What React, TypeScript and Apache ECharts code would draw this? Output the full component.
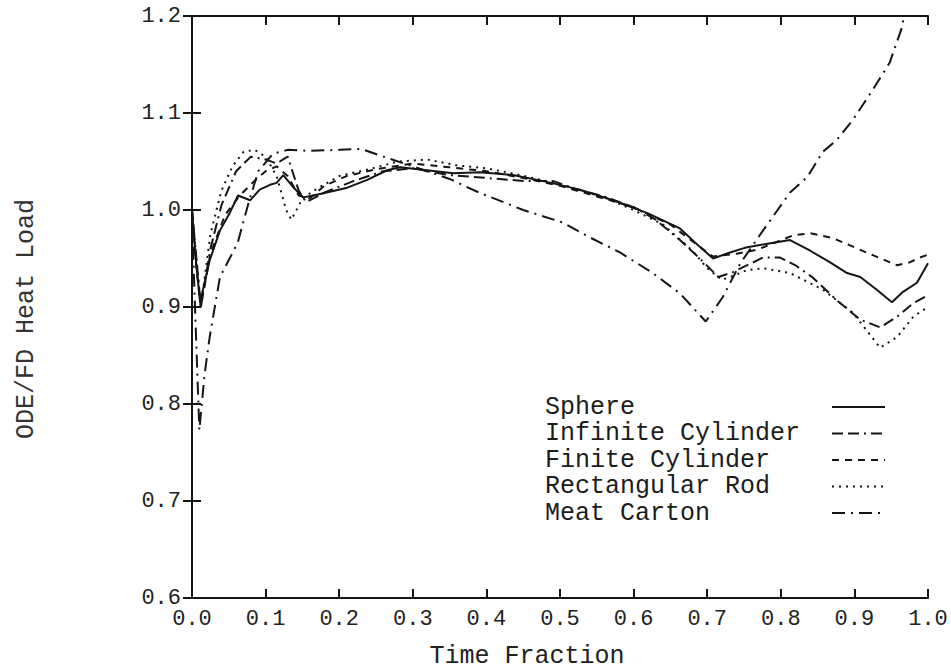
import React, { useEffect, useRef } from "react";
import * as echarts from "echarts";

// [time fraction, ODE/FD heat load] pairs for each product geometry
const sphere: [number, number][] = [
  [0, 1.0], [0.005, 0.95], [0.011, 0.905], [0.024, 0.948], [0.038, 0.979], [0.05, 0.995],
  [0.0625, 1.015], [0.079, 1.01], [0.092, 1.021], [0.106, 1.026], [0.115, 1.028], [0.124, 1.036],
  [0.137, 1.024], [0.151, 1.013], [0.165, 1.015], [0.183, 1.018], [0.211, 1.023], [0.238, 1.031],
  [0.265, 1.041], [0.283, 1.044], [0.319, 1.041], [0.355, 1.038], [0.391, 1.039], [0.436, 1.036],
  [0.482, 1.029], [0.527, 1.021], [0.572, 1.01], [0.618, 0.997], [0.663, 0.981], [0.69, 0.962],
  [0.708, 0.95], [0.73, 0.956], [0.751, 0.961], [0.78, 0.965], [0.8125, 0.969], [0.84, 0.958],
  [0.867, 0.946], [0.89, 0.935], [0.908, 0.931], [0.93, 0.918], [0.951, 0.905], [0.965, 0.915],
  [0.985, 0.925], [1.0, 0.945],
];

const infiniteCylinder: [number, number][] = [
  [0, 1.0], [0.006, 0.95], [0.012, 0.9], [0.025, 0.96], [0.04, 1.005], [0.06, 1.04],
  [0.08, 1.055], [0.1, 1.052], [0.115, 1.048], [0.13, 1.055], [0.145, 1.02], [0.155, 1.008],
  [0.18, 1.018], [0.22, 1.03], [0.26, 1.04], [0.3, 1.043], [0.35, 1.036], [0.4, 1.033],
  [0.45, 1.03], [0.49, 1.03], [0.52, 1.022], [0.56, 1.014], [0.6, 1.003], [0.63, 0.99],
  [0.663, 0.969], [0.69, 0.95], [0.715, 0.931], [0.735, 0.936], [0.776, 0.951], [0.799, 0.951],
  [0.82, 0.943], [0.844, 0.93], [0.876, 0.907], [0.908, 0.887], [0.935, 0.879], [0.958, 0.89],
  [0.98, 0.904], [1.0, 0.912],
];

const finiteCylinder: [number, number][] = [
  [0, 1.0], [0.006, 0.94], [0.012, 0.9], [0.025, 0.955], [0.045, 0.995], [0.065, 1.015],
  [0.085, 1.03], [0.1, 1.04], [0.115, 1.045], [0.13, 1.035], [0.145, 1.015], [0.16, 1.012],
  [0.18, 1.025], [0.21, 1.035], [0.25, 1.042], [0.3, 1.048], [0.35, 1.044], [0.4, 1.04],
  [0.45, 1.033], [0.5, 1.025], [0.55, 1.014], [0.6, 1.003], [0.65, 0.985], [0.69, 0.962],
  [0.708, 0.952], [0.74, 0.955], [0.768, 0.959], [0.817, 0.974], [0.84, 0.976], [0.871, 0.971],
  [0.917, 0.956], [0.958, 0.943], [0.975, 0.946], [0.989, 0.951], [1.0, 0.954],
];

const rectangularRod: [number, number][] = [
  [0, 1.0], [0.006, 0.95], [0.012, 0.9], [0.025, 0.975], [0.04, 1.02], [0.055, 1.045],
  [0.07, 1.06], [0.085, 1.062], [0.1, 1.055], [0.115, 1.035], [0.128, 1.0], [0.135, 0.99],
  [0.142, 1.0], [0.15, 1.012], [0.17, 1.022], [0.2, 1.035], [0.24, 1.042], [0.28, 1.05],
  [0.32, 1.052], [0.36, 1.046], [0.4, 1.043], [0.44, 1.037], [0.48, 1.03], [0.52, 1.022],
  [0.56, 1.013], [0.6, 1.0], [0.64, 0.985], [0.68, 0.958], [0.7, 0.94], [0.72, 0.928],
  [0.735, 0.932], [0.754, 0.938], [0.776, 0.94], [0.8125, 0.935], [0.857, 0.918], [0.898, 0.894],
  [0.935, 0.858], [0.958, 0.869], [0.98, 0.89], [1.0, 0.9],
];

const meatCarton: [number, number][] = [
  [0, 0.99], [0.005, 0.88], [0.01, 0.773], [0.017, 0.83], [0.024, 0.869], [0.038, 0.931],
  [0.062, 0.966], [0.076, 1.005], [0.09, 1.04], [0.11, 1.058], [0.13, 1.062], [0.16, 1.061],
  [0.2, 1.062], [0.23, 1.063], [0.26, 1.055], [0.3, 1.045], [0.35, 1.032], [0.39, 1.018],
  [0.45, 1.0], [0.504, 0.987], [0.54, 0.972], [0.582, 0.956], [0.626, 0.935], [0.663, 0.914],
  [0.698, 0.885], [0.721, 0.91], [0.745, 0.945], [0.776, 0.979], [0.8125, 1.018], [0.836, 1.034],
  [0.857, 1.06], [0.876, 1.072], [0.898, 1.093], [0.925, 1.124], [0.948, 1.152], [0.965, 1.189],
  [0.967, 1.2],
];

const seriesNames = ["Sphere", "Infinite Cylinder", "Finite Cylinder", "Rectangular Rod", "Meat Carton"];
const seriesData = [sphere, infiniteCylinder, finiteCylinder, rectangularRod, meatCarton];

const INK = "#151515";
const MONO = "'Liberation Mono', 'DejaVu Sans Mono', monospace";

// dash patterns for each curve
const dashes: (string | number[])[] = [
  "solid",
  [11, 5, 11, 5, 2, 5],
  [7, 6],
  [2, 5],
  [13, 6, 2, 6],
];

export default function App() {
  const ref = useRef<HTMLDivElement>(null);

  useEffect(() => {
    if (!ref.current) return;
    const chart = echarts.init(ref.current, undefined, { renderer: "svg" });

    const tickLabel = {
      fontFamily: MONO,
      fontSize: 22,
      color: "#222",
    };
    const axisLine = { show: true, lineStyle: { color: INK, width: 2 } };
    const axisTick = { show: true, inside: true, length: 9, lineStyle: { color: INK, width: 2 } };

    const legendTop = 407;
    const legendStep = 26.5;
    const legendGraphics: any[] = [];
    seriesNames.forEach((name, i) => {
      const y = legendTop + i * legendStep;
      legendGraphics.push({
        type: "text",
        x: 545,
        y,
        style: {
          text: name,
          font: `25px ${MONO}`,
          fill: "#1c1c1c",
          verticalAlign: "middle",
          align: "left",
        },
      });
      legendGraphics.push({
        type: "line",
        shape: { x1: 832, y1: y, x2: 885, y2: y },
        style: {
          stroke: INK,
          lineWidth: 2,
          lineDash: dashes[i] === "solid" ? null : (dashes[i] as number[]),
        },
      });
    });

    chart.setOption({
      animation: false,
      backgroundColor: "#ffffff",
      grid: { left: 192, right: 23, top: 16, bottom: 71, containLabel: false },
      xAxis: [
        {
          type: "value",
          min: 0,
          max: 1,
          interval: 0.1,
          position: "bottom",
          axisLine,
          axisTick,
          splitLine: { show: false },
          axisLabel: { ...tickLabel, margin: 10, formatter: (v: number) => v.toFixed(1) },
        },
        {
          type: "value",
          min: 0,
          max: 1,
          interval: 0.1,
          position: "top",
          axisLine,
          axisTick,
          splitLine: { show: false },
          axisLabel: { show: false },
        },
      ],
      yAxis: [
        {
          type: "value",
          min: 0.6,
          max: 1.2,
          interval: 0.1,
          position: "left",
          axisLine,
          axisTick,
          splitLine: { show: false },
          axisLabel: { ...tickLabel, margin: 11, formatter: (v: number) => v.toFixed(1) },
        },
        {
          type: "value",
          min: 0.6,
          max: 1.2,
          interval: 0.1,
          position: "right",
          axisLine,
          axisTick,
          splitLine: { show: false },
          axisLabel: { show: false },
        },
      ],
      series: seriesNames.map((name, i) => ({
        name,
        type: "line",
        data: seriesData[i],
        showSymbol: false,
        smooth: false,
        clip: true,
        lineStyle: { color: INK, width: 2, type: dashes[i] },
      })),
      graphic: [
        {
          type: "text",
          x: 527,
          y: 656,
          style: {
            text: "Time Fraction",
            font: `25px ${MONO}`,
            fill: "#222",
            align: "center",
            verticalAlign: "middle",
          },
        },
        {
          type: "text",
          x: 26,
          y: 319,
          rotation: Math.PI / 2,
          style: {
            text: "ODE/FD Heat Load",
            font: `25px ${MONO}`,
            fill: "#333",
            align: "center",
            verticalAlign: "middle",
          },
        },
        ...legendGraphics,
      ],
    });

    return () => chart.dispose();
  }, []);

  return (
    <div
      ref={ref}
      style={{ position: "fixed", left: 0, top: 0, width: 951, height: 669, background: "#fff" }}
    />
  );
}
